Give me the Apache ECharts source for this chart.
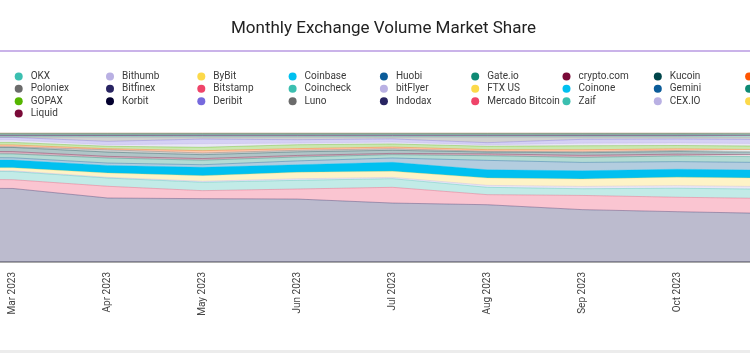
<!DOCTYPE html>
<html>
<head>
<meta charset="utf-8">
<script src="https://cdn.jsdelivr.net/npm/echarts@6/dist/echarts.min.js"></script>
<style>
  html, body { margin: 0; padding: 0; background: #fff; }
  #chart { width: 750px; height: 353px; }
</style>
</head>
<body>
<div id="chart"></div>
<script>
// months on the x axis (Feb and Nov sit just outside the visible window)
var monthLabels = ['Feb 2023', 'Mar 2023', 'Apr 2023', 'May 2023', 'Jun 2023',
                   'Jul 2023', 'Aug 2023', 'Sep 2023', 'Oct 2023', 'Nov 2023'];

// legend order as shown
var legendNames = ['OKX', 'Bithumb', 'ByBit', 'Coinbase', 'Huobi', 'Gate.io', 'crypto.com', 'Kucoin', 'Upbit',
                   'Poloniex', 'Bitfinex', 'Bitstamp', 'Coincheck', 'bitFlyer', 'FTX US', 'Coinone', 'Gemini', 'Bitget',
                   'GOPAX', 'Korbit', 'Deribit', 'Luno', 'Indodax', 'Mercado Bitcoin', 'Zaif', 'CEX.IO', 'MEXC',
                   'Liquid'];

// market share (%), stack order bottom -> top
var bitfinex = [57.5, 57.0, 49.6, 49.1, 48.8, 45.7, 44.4, 40.6, 39.0, 37.6];
var bitstamp = [6.8, 6.8, 9.1, 6.2, 7.8, 12.2, 7.8, 11.0, 11.2, 11.6];
var okx = [6.3, 6.3, 6.4, 6.5, 6.7, 6.7, 5.7, 5.2, 7.0, 7.2];
var bithumb = [0.6, 0.6, 0.5, 0.8, 1.2, 1.0, 1.5, 1.8, 2.0, 2.0];
var bybit = [2.2, 2.3, 3.3, 4.3, 5.0, 4.7, 5.7, 5.7, 6.5, 6.6];
var coinbase = [6.0, 6.0, 6.0, 6.5, 5.9, 7.0, 6.4, 6.4, 6.2, 6.2];
var huobi = [1.9, 1.8, 1.8, 2.0, 3.0, 3.3, 7.3, 6.5, 5.9, 5.9];
var gateio = [2.9, 3.0, 3.9, 3.5, 3.0, 2.6, 3.6, 3.9, 4.4, 4.5];
var cryptocom = [1.8, 1.8, 1.3, 1.3, 1.2, 1.0, 1.4, 1.6, 1.4, 1.4];
var kucoin = [3.1, 3.2, 3.3, 3.0, 2.8, 2.4, 1.4, 2.0, 2.0, 2.0];
var poloniex = [0.5, 0.5, 1.8, 1.3, 1.2, 1.2, 0.6, 0.8, 0.8, 0.8];
var upbit = [1.3, 1.4, 0.8, 1.8, 1.3, 1.3, 1.3, 1.5, 1.3, 1.3];
var gopax = [1.9, 2.0, 1.9, 2.6, 3.0, 2.4, 2.6, 3.1, 2.6, 2.7];
var bitflyer = [1.9, 1.9, 1.2, 2.8, 1.3, 1.5, 1.2, 2.0, 2.0, 2.0];
var deribit = [1.9, 2.0, 2.6, 3.6, 2.6, 2.4, 1.6, 3.0, 3.0, 3.2];
var luno = [0.35, 0.35, 3.45, 1.65, 2.15, 1.55, 4.45, 1.85, 1.65, 1.95];
var coincheck = [0.4, 0.4, 0.5, 0.4, 0.4, 0.3, 0.4, 0.4, 0.4, 0.4];
var mercado = [0.8, 0.8, 0.7, 0.8, 0.8, 0.9, 0.8, 0.8, 0.8, 0.8];
var gemini = [0.25, 0.25, 0.2, 0.25, 0.3, 0.25, 0.25, 0.2, 0.25, 0.25];
var korbit = [0.1, 0.1, 0.15, 0.1, 0.05, 0.1, 0.1, 0.15, 0.1, 0.1];
var indodax = [0.15, 0.15, 0.1, 0.15, 0.15, 0.2, 0.15, 0.15, 0.15, 0.15];
var zaif = [0.1, 0.1, 0.15, 0.1, 0.1, 0.05, 0.1, 0.1, 0.1, 0.1];
var cexio = [0.25, 0.25, 0.25, 0.3, 0.25, 0.25, 0.2, 0.25, 0.25, 0.25];
var ftxus = [0.05, 0.05, 0.05, 0, 0.05, 0.05, 0.1, 0.05, 0.05, 0.05];
var coinone = [0.25, 0.25, 0.25, 0.25, 0.25, 0.25, 0.25, 0.3, 0.25, 0.25];
var bitget = [0.4, 0.4, 0.4, 0.4, 0.4, 0.4, 0.4, 0.35, 0.4, 0.4];
var mexc = [0.2, 0.2, 0.2, 0.2, 0.2, 0.2, 0.2, 0.2, 0.2, 0.2];
var liquid = [0.1, 0.1, 0.1, 0.1, 0.1, 0.1, 0.1, 0.1, 0.1, 0.1];

var stackOrder = [
    ['Bitfinex', bitfinex], ['Bitstamp', bitstamp], ['OKX', okx], ['Bithumb', bithumb],
    ['ByBit', bybit], ['Coinbase', coinbase], ['Huobi', huobi], ['Gate.io', gateio],
    ['crypto.com', cryptocom], ['Kucoin', kucoin], ['Poloniex', poloniex], ['Upbit', upbit],
    ['GOPAX', gopax], ['bitFlyer', bitflyer], ['Deribit', deribit], ['Luno', luno],
    ['Coincheck', coincheck], ['Mercado Bitcoin', mercado], ['Gemini', gemini], ['Korbit', korbit],
    ['Indodax', indodax], ['Zaif', zaif], ['CEX.IO', cexio], ['FTX US', ftxus],
    ['Coinone', coinone], ['Bitget', bitget], ['MEXC', mexc], ['Liquid', liquid]
];

var colors = {
    'OKX': '#3bbfb0', 'Bithumb': '#b9b0e3', 'ByBit': '#fcd94a', 'Coinbase': '#00c0f0',
    'Huobi': '#0b5c99', 'Gate.io': '#0e8a74', 'crypto.com': '#7a0a38', 'Kucoin': '#00454a',
    'Upbit': '#ff5500', 'Poloniex': '#6b6b6b', 'Bitfinex': '#282462', 'Bitstamp': '#ef4469',
    'Coincheck': '#3bbfb0', 'bitFlyer': '#b9b0e3', 'FTX US': '#fcd94a', 'Coinone': '#00c0f0',
    'Gemini': '#0b5c99', 'Bitget': '#0e8a74', 'GOPAX': '#55b500', 'Korbit': '#03002e',
    'Deribit': '#7669dd', 'Luno': '#6b6b6b', 'Indodax': '#282462', 'Mercado Bitcoin': '#ef4469',
    'Zaif': '#3bbfb0', 'CEX.IO': '#b9b0e3', 'MEXC': '#fcd94a', 'Liquid': '#7a0a38'
};

var chart = echarts.init(document.getElementById('chart'));

var series = stackOrder.map(function (s) {
    var name = s[0];
    return {
        name: name,
        type: 'line',
        stack: 'share',
        symbol: 'none',
        color: colors[name],
        lineStyle: { width: 1, opacity: 0.35 },
        areaStyle: { opacity: name === 'Coinbase' ? 1 : 0.31 },
        emphasis: { disabled: true },
        data: s[1]
    };
});

chart.setOption({
    animation: false,
    textStyle: { fontFamily: 'Roboto' },
    title: {
        text: 'Monthly Exchange Volume Market Share',
        left: 383.5,
        top: 20,
        padding: 0,
        textAlign: 'center',
        textStyle: { fontFamily: 'Roboto', fontSize: 17, fontWeight: 'normal', color: '#222' }
    },
    graphic: [
        { type: 'line', shape: { x1: 0, y1: 51, x2: 750, y2: 51 }, style: { stroke: '#b89ae2', lineWidth: 1.5 } },
        { type: 'rect', shape: { x: 0, y: 350, width: 750, height: 3 }, style: { fill: '#ececec' } }
    ],
    legend: {
        data: legendNames,
        left: 14.7,
        top: 70.2,
        width: 860,
        padding: 0,
        itemGap: 0,
        itemWidth: 14,
        itemHeight: 8,
        icon: 'circle',
        textStyle: { fontFamily: 'Roboto', fontSize: 10, color: '#3a3a3a', width: 75.3, lineHeight: 12.4 }
    },
    // plot runs past both edges: Feb sits left of the window, Nov right of it
    grid: { left: -82, right: -22, top: 133, bottom: 91, outerBoundsMode: 'none', containLabel: false },
    xAxis: {
        type: 'category',
        data: monthLabels,
        boundaryGap: false,
        axisLine: { show: true, lineStyle: { color: '#8c8c8c', width: 1.5 } },
        axisTick: { show: false },
        splitLine: { show: false },
        axisLabel: {
            rotate: 90,
            margin: 10,
            fontSize: 10,
            color: '#444',
            interval: 0
        }
    },
    yAxis: {
        type: 'value',
        min: 0,
        max: 100,
        show: false
    },
    series: series
});
</script>
</body>
</html>
